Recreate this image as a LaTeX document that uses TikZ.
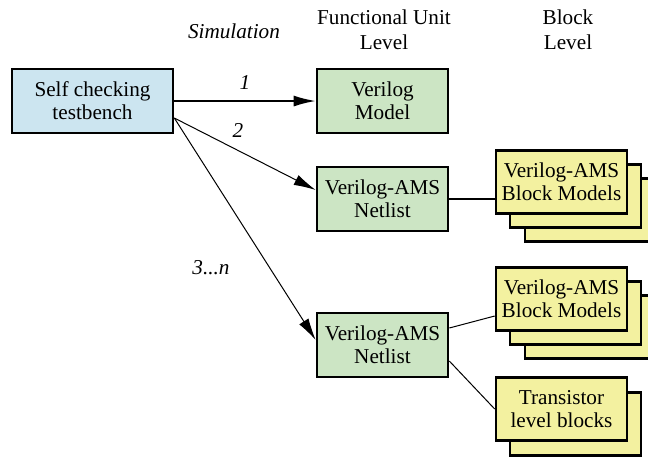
\documentclass[tikz,border=0pt]{standalone}
\usepackage{fontspec}
\setmainfont{Liberation Serif}
\newfontfamily\diagfont{Liberation Serif}
\usepackage{tikz}
\usetikzlibrary{arrows.meta,positioning,calc}
\definecolor{tbblue}{RGB}{204,229,240}
\definecolor{fugreen}{RGB}{204,229,196}
\definecolor{blkyellow}{RGB}{243,241,160}

\begin{document}
\begin{tikzpicture}[x=0.5pt,y=-0.5pt, font=\diagfont\fontsize{10.6}{11.6}\selectfont,
 box/.style={draw=black,line width=1.3pt,align=center,minimum width=65.5pt,minimum height=32pt,inner sep=2pt},
 tbbox/.style={box,fill=tbblue,minimum width=80.5pt},
 fubox/.style={box,fill=fugreen},
 blkbox/.style={box,fill=blkyellow,minimum height=31.5pt},
 arr/.style={-{Latex[length=11pt,width=5.5pt]},line width=0.5pt},
 link/.style={line width=0.5pt},
 lbl/.style={font=\diagfont\fontsize{10.6}{12.5}\selectfont\itshape},
 head/.style={align=center,font=\diagfont\fontsize{10.6}{12.5}\selectfont}]
\useasboundingbox (0,0) rectangle (648,457);
% column headings
\node[lbl] (sim) at (234,31) {Simulation};
\node[head] (fu) at (384,30) {Functional Unit\\Level};
\node[head] (bl) at (568,30) {Block\\Level};
% testbench and functional unit models
\node[tbbox] (tb) at (92.5,101) {Self checking\\testbench};
\node[fubox] (vm) at (382.5,101) {Verilog\\Model};
\node[fubox] (n2) at (382.5,199) {Verilog-AMS\\Netlist};
\node[fubox] (n3) at (382.5,345) {Verilog-AMS\\Netlist};
% block level stacks
\node[blkbox] (bm1c) at (590.5,210) {};
\node[blkbox] (bm1b) at (575.5,196) {};
\node[blkbox] (bm1) at (561.5,182) {Verilog-AMS\\Block Models};
\node[blkbox] (bm2c) at (590.5,327) {};
\node[blkbox] (bm2b) at (575.5,313) {};
\node[blkbox] (bm2) at (561.5,299) {Verilog-AMS\\Block Models};
\node[blkbox] (trb) at (575.5,424) {};
\node[blkbox] (tr) at (561.5,409) {Transistor\\level blocks};
% simulations
\coordinate (tbo) at ([yshift=-8.5pt]tb.east);
\draw[arr,line width=0.9pt] (tb.east) -- node[lbl,above=2pt] (l1) {1} (vm.west);
\draw[arr] (tbo) -- ([yshift=4.5pt]n2.west);
\draw[arr] (tbo) -- ([yshift=2.5pt]n3.west);
\node[lbl] (l2) at (238,130) {2};
\node[lbl] (l3) at (211,268) {3...n};
% netlist to blocks
\draw[link,line width=0.8pt] (n2.east) -- (n2.east -| bm1.west);
\draw[link] ([yshift=8.5pt]n3.east) -- ([yshift=-8.5pt]bm2.west);
\draw[link] ([yshift=-8pt]n3.east) -- (tr.west);
\end{tikzpicture}
\end{document}
